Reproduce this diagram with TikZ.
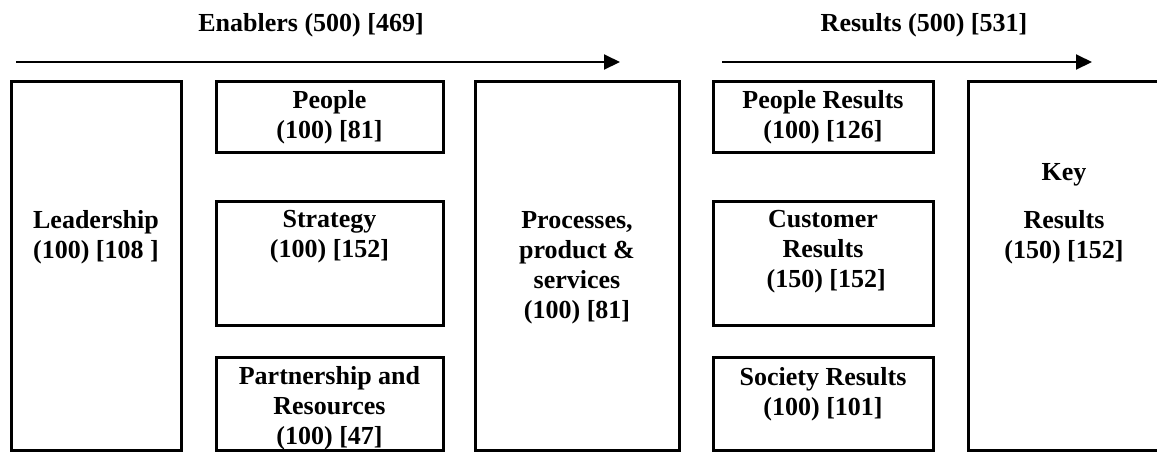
\documentclass[tikz,border=0pt]{standalone}
\usepackage{fontspec}
\setmainfont{Liberation Serif}
\usetikzlibrary{arrows.meta,calc,positioning}

\begin{document}
\begin{tikzpicture}[x=0.5pt,y=-0.5pt,
	critbox/.style={draw,line width=1.5pt,inner sep=0pt,outer sep=0pt,anchor=north west},
	crittxt/.style={anchor=base,align=center,inner sep=0pt,font=\fontsize{13pt}{15pt}\selectfont\bfseries},
	flow/.style={line width=1pt,-{Triangle[length=8pt,width=7.5pt]}}]
	%\draw[help lines] (0,0) grid[step=50] (1157,452);
	\clip (0,0) rectangle (1157,452);
	%TITRES ET FLECHES
	\node[crittxt] (enab) at (311,31) {Enablers (500) [469]};
	\node[crittxt] (res) at (924,31) {Results (500) [531]};
	\coordinate (enA) at (16,62);
	\coordinate (enB) at (620,62);
	\coordinate (reA) at (722,62);
	\coordinate (reB) at (1092,62);
	\draw[flow] (enA) -- (enB);
	\draw[flow] (reA) -- (reB);
	%ENABLERS (base = derniere ligne)
	\node[critbox,minimum width=85pt,minimum height=184.5pt] (lead) at (11,81) {};
	\node[critbox,minimum width=113.5pt,minimum height=35.5pt] (ppl) at (216,81) {};
	\node[critbox,minimum width=113.5pt,minimum height=62pt] (strat) at (216,201) {};
	\node[critbox,minimum width=113.5pt,minimum height=46.5pt] (part) at (216,357) {};
	\node[critbox,minimum width=102pt,minimum height=184.5pt] (proc) at (475,81) {};
	\node[crittxt] (leadT) at ($(lead.north)+(0,177)$) {Leadership\\(100) [108 ]};
	\node[crittxt] (pplT) at ($(ppl.north)+(0,57)$) {People\\(100) [81]};
	\node[crittxt] (stratT) at ($(strat.north)+(0,56)$) {Strategy\\(100) [152]};
	\node[crittxt] (partT) at ($(part.north)+(0,87)$) {Partnership and\\Resources\\(100) [47]};
	\node[crittxt] (procT) at ($(proc.north)+(0,237)$) {Processes,\\product \&\\services\\(100) [81]};
	%RESULTS
	\node[critbox,minimum width=110pt,minimum height=35.5pt] (pplres) at (713,81) {};
	\node[critbox,minimum width=110pt,minimum height=62pt] (cust) at (713,201) {};
	\node[critbox,minimum width=110pt,minimum height=46.5pt] (soc) at (713,357) {};
	\node[critbox,minimum width=96pt,minimum height=184.5pt] (key) at (968,81) {};
	\node[crittxt] (pplresT) at ($(pplres.north)+(0,57)$) {People Results\\(100) [126]};
	\node[crittxt] (custT) at ($(cust.north)+(0,86)$) {Customer\\Results\\~(150) [152]};
	\node[crittxt] (socT) at ($(soc.north)+(0,58)$) {Society Results\\(100) [101]};
	\node[crittxt] (keyT) at ($(key.north)+(0,177)$) {Key\\[9pt]Results\\(150) [152]};
\end{tikzpicture}
\end{document}
